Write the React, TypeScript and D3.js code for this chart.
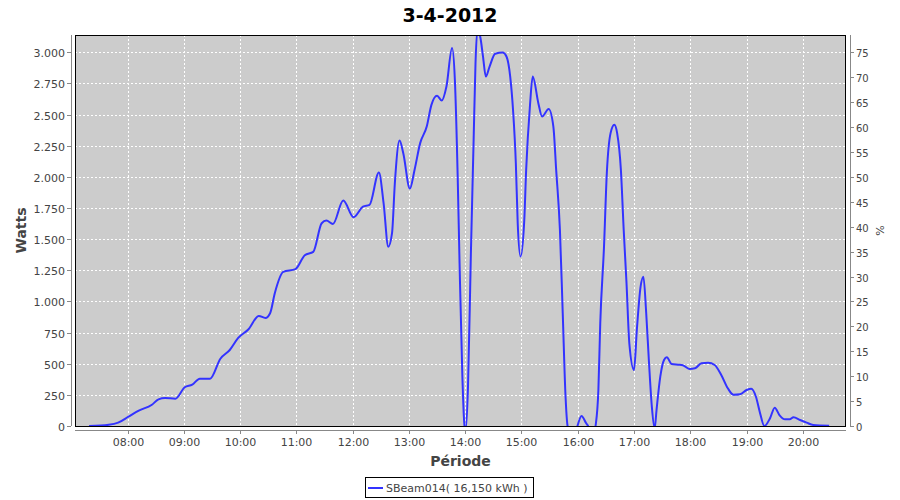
import * as d3 from 'd3'

// readings of the SBeam014 inverter, 3-4-2012 (time of day, watts)
const times = [
  '07:19', '07:40', '07:50', '08:01', '08:12', '08:26', '08:33', '08:40', '08:51', '09:01',
  '09:09', '09:17', '09:28', '09:39', '09:49', '09:58', '10:09', '10:20', '10:27', '10:32',
  '10:37', '10:46', '10:59', '11:09', '11:18', '11:27', '11:32', '11:39', '11:50', '12:01',
  '12:11', '12:18', '12:28', '12:33', '12:38', '12:42', '12:45', '12:50', '12:54', '13:01',
  '13:06', '13:12', '13:19', '13:24', '13:30', '13:35', '13:40', '13:46', '13:49', '13:52',
  '13:54', '13:57', '14:00', '14:03', '14:06', '14:09', '14:11', '14:13', '14:16', '14:19',
  '14:22', '14:26', '14:32', '14:40', '14:44', '14:48', '14:51', '14:54', '14:56', '14:59',
  '15:03', '15:05', '15:09', '15:12', '15:18', '15:22', '15:29', '15:34', '15:37', '15:41',
  '15:44', '15:47', '15:49', '15:55', '16:00', '16:04', '16:09', '16:11', '16:15', '16:19',
  '16:22', '16:24', '16:28', '16:31', '16:35', '16:39', '16:42', '16:46', '16:49', '16:52',
  '16:55', '17:00', '17:03', '17:07', '17:10', '17:13', '17:16', '17:19', '17:22', '17:24',
  '17:28', '17:32', '17:35', '17:40', '17:47', '17:52', '17:59', '18:05', '18:12', '18:19',
  '18:26', '18:33', '18:40', '18:46', '18:53', '19:00', '19:05', '19:10', '19:14', '19:19',
  '19:25', '19:30', '19:35', '19:41', '19:46', '19:50', '19:57', '20:04', '20:11', '20:28',
]

const watts = [
  0, 10, 27, 75, 123, 171, 214, 225, 219, 311,
  332, 380, 380, 540, 610, 707, 777, 884, 867, 905,
  1066, 1237, 1259, 1371, 1398, 1628, 1649, 1622, 1810, 1676,
  1761, 1775, 2035, 1789, 1440, 1548, 1949, 2292, 2190, 1906,
  2056, 2271, 2404, 2578, 2651, 2613, 2725, 3034, 2779, 2002,
  1307, 396, -50, 316, 1360, 2297, 2913, 3180, 3127, 2966,
  2805, 2886, 2988, 2998, 2966, 2805, 2538, 2110, 1628, 1360,
  1655, 2056, 2565, 2805, 2592, 2484, 2544, 2404, 2056, 1574,
  905, 235, 8, -150, 8, 80, 22, 0, -120, 0,
  289, 825, 1440, 2030, 2351, 2418, 2351, 2056, 1574, 1146,
  664, 450, 771, 1119, 1199, 905, 504, 155, -20, 128,
  396, 530, 552, 498, 492, 488, 458, 463, 504, 508,
  490, 410, 303, 251, 255, 289, 300, 235, 115, 0,
  62, 147, 88, 54, 54, 70, 48, 27, 8, 2,
]

const hourTicks = ['08:00', '09:00', '10:00', '11:00', '12:00', '13:00', '14:00', '15:00', '16:00', '17:00', '18:00', '19:00', '20:00']
const wattTicks = [0, 250, 500, 750, 1000, 1250, 1500, 1750, 2000, 2250, 2500, 2750, 3000]
const percentTicks = [0, 5, 10, 15, 20, 25, 30, 35, 40, 45, 50, 55, 60, 65, 70, 75]

const title = '3-4-2012'
const seriesName = 'SBeam014( 16,150 kWh )'

const toMinutes = (t: string) => {
  const [h, m] = t.split(':').map(Number)
  return h * 60 + m
}

const nl = d3.formatLocale({ decimal: ',', thousands: '.', grouping: [3], currency: ['', ''] })
const fmtWatts = nl.format(',d')

export default function App() {
  const width = 900
  const height = 500
  const plot = { left: 75, right: 846, top: 35, bottom: 426 }
  const font = '"DejaVu Sans", Tahoma, sans-serif'
  const textColor = '#444444'

  const x = d3.scaleLinear().domain([toMinutes('07:04'), toMinutes('20:46')]).range([plot.left, plot.right])
  const y = d3.scaleLinear().domain([0, 3139]).range([plot.bottom, plot.top])
  const yPct = d3.scaleLinear().domain([0, 3139 / 40]).range([plot.bottom, plot.top])

  const points: [number, number][] = times.map((t, i) => [toMinutes(t), watts[i]])
  const line = d3
    .line<[number, number]>()
    .x((d) => x(d[0]))
    .y((d) => y(d[1]))
    .curve(d3.curveMonotoneX)

  const xAxisY = plot.bottom + 4
  const leftAxisX = plot.left - 4
  const rightAxisX = plot.right + 4
  const midY = (plot.top + plot.bottom) / 2
  const midX = (plot.left + plot.right) / 2

  return (
    <>
      <style>{`body{margin:0}`}</style>
      <svg width={width} height={height} style={{ display: 'block', background: '#ffffff' }} fontFamily={font}>
        <defs>
          <clipPath id="plot-clip">
            <rect x={plot.left} y={plot.top} width={plot.right - plot.left} height={plot.bottom - plot.top} />
          </clipPath>
        </defs>

        <text x={width / 2} y={22} textAnchor="middle" fontSize={19} fontWeight="bold" fill="#000">
          {title}
        </text>

        <rect x={plot.left} y={plot.top} width={plot.right - plot.left} height={plot.bottom - plot.top} fill="#cccccc" />

        {wattTicks.map((t) => (
          <line key={`gy-${t}`} x1={plot.left} x2={plot.right} y1={Math.round(y(t)) + 0.5} y2={Math.round(y(t)) + 0.5} stroke="#fff" strokeDasharray="2,2" />
        ))}
        {hourTicks.map((t) => (
          <line key={`gx-${t}`} x1={Math.round(x(toMinutes(t))) + 0.5} x2={Math.round(x(toMinutes(t))) + 0.5} y1={plot.top} y2={plot.bottom} stroke="#fff" strokeDasharray="2,2" />
        ))}

        <path d={line(points) ?? ''} fill="none" stroke="#3333ff" strokeWidth={2} clipPath="url(#plot-clip)" />

        <rect x={plot.left + 0.5} y={plot.top + 0.5} width={plot.right - plot.left - 1} height={plot.bottom - plot.top} fill="none" stroke="#000" />

        {/* left axis */}
        <line x1={leftAxisX + 0.5} x2={leftAxisX + 0.5} y1={plot.top} y2={plot.bottom} stroke="#888" />
        {wattTicks.map((t) => (
          <g key={`ly-${t}`} transform={`translate(0, ${Math.round(y(t)) + 0.5})`}>
            <line x1={leftAxisX - 4} x2={leftAxisX} stroke="#888" />
            <text x={leftAxisX - 6} y={4} textAnchor="end" fontSize={11} fill={textColor}>
              {fmtWatts(t)}
            </text>
          </g>
        ))}
        <text transform={`translate(26, ${midY}) rotate(-90)`} textAnchor="middle" fontSize={14} fontWeight="bold" fill={textColor}>
          Watts
        </text>

        {/* right axis */}
        <line x1={rightAxisX + 0.5} x2={rightAxisX + 0.5} y1={plot.top} y2={plot.bottom} stroke="#888" />
        {percentTicks.map((t) => (
          <g key={`ry-${t}`} transform={`translate(0, ${Math.round(yPct(t)) + 0.5})`}>
            <line x1={rightAxisX} x2={rightAxisX + 4} stroke="#888" />
            <text x={rightAxisX + 6} y={4} textAnchor="start" fontSize={10} fill={textColor}>
              {t}
            </text>
          </g>
        ))}
        <text transform={`translate(884, ${midY}) rotate(-90)`} textAnchor="middle" fontSize={11} fill={textColor}>
          %
        </text>

        {/* bottom axis */}
        <line x1={plot.left} x2={plot.right} y1={xAxisY + 0.5} y2={xAxisY + 0.5} stroke="#888" />
        {hourTicks.map((t) => (
          <g key={`lx-${t}`} transform={`translate(${Math.round(x(toMinutes(t))) + 0.5}, 0)`}>
            <line y1={xAxisY} y2={xAxisY + 4} stroke="#888" />
            <text y={446} textAnchor="middle" fontSize={11} fill={textColor}>
              {t}
            </text>
          </g>
        ))}
        <text x={midX} y={466} textAnchor="middle" fontSize={14} fontWeight="bold" fill={textColor}>
          Période
        </text>

        {/* legend */}
        <rect x={365.5} y={477.5} width={168} height={20} fill="#fff" stroke="#000" />
        <line x1={368} x2={383} y1={488} y2={488} stroke="#3333ff" strokeWidth={2} />
        <text x={386} y={492} fontSize={11} fill={textColor}>
          {seriesName}
        </text>
      </svg>
    </>
  )
}
